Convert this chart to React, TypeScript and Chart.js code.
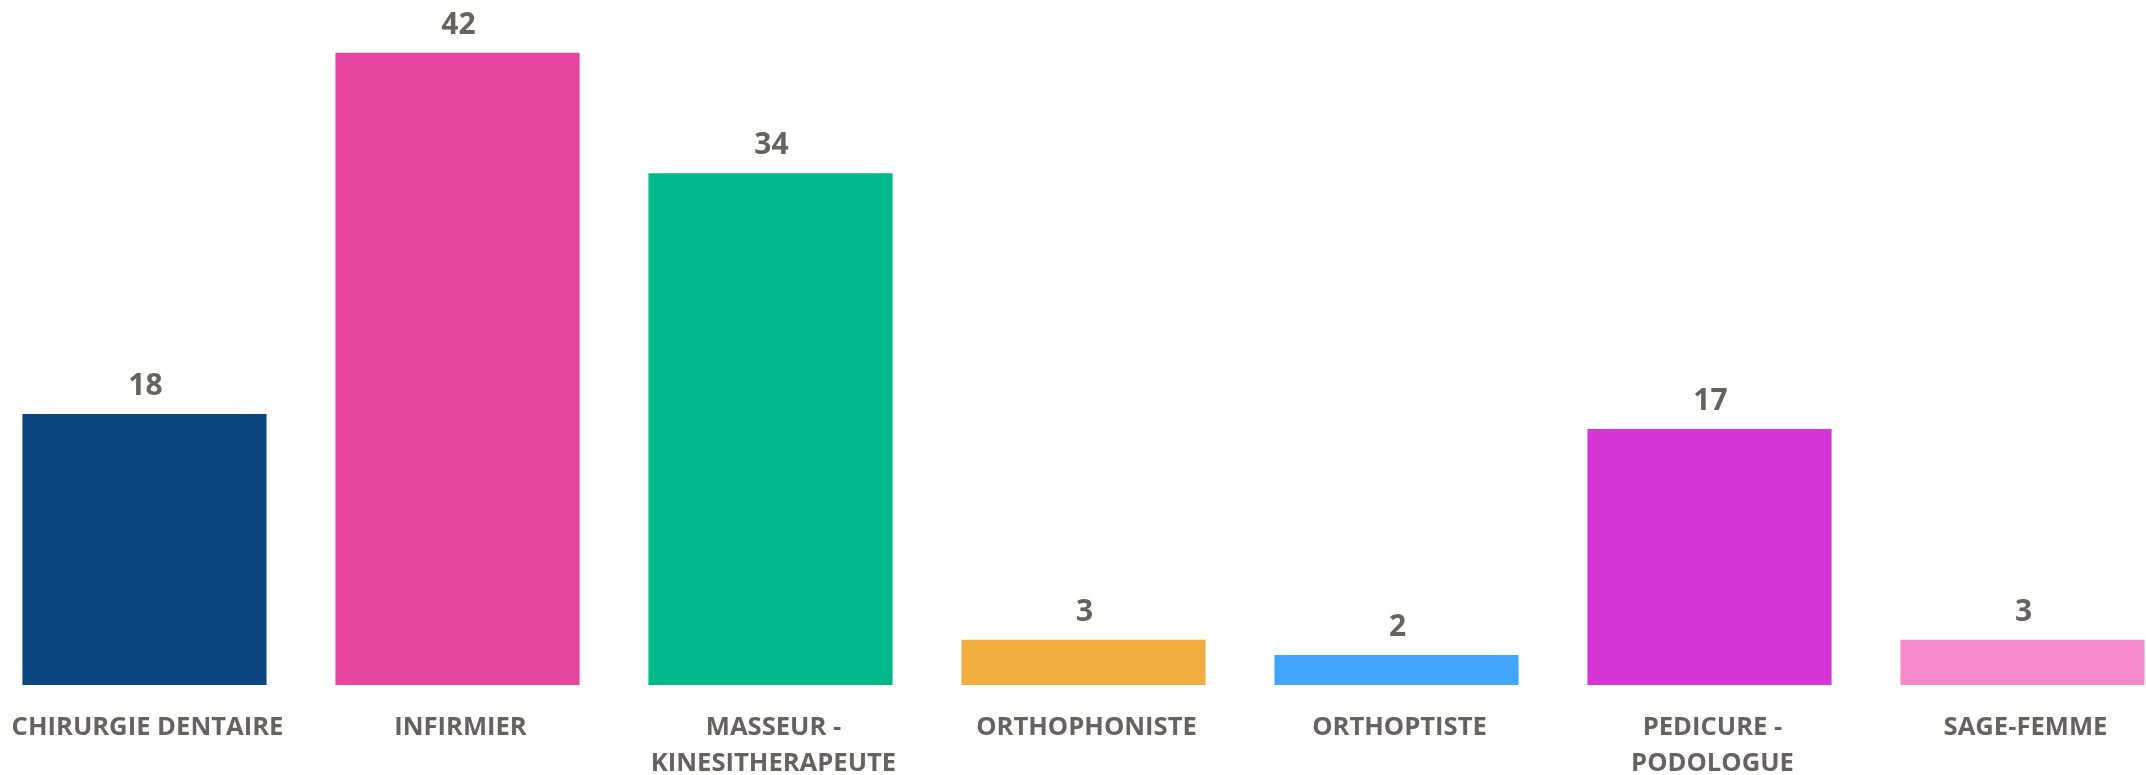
import React, { useEffect, useRef } from "react";
import { Chart, registerables } from "chart.js";

Chart.register(...registerables);

const categories: (string | string[])[] = [
  "CHIRURGIE DENTAIRE",
  "INFIRMIER",
  ["MASSEUR -", "KINESITHERAPEUTE"],
  "ORTHOPHONISTE",
  "ORTHOPTISTE",
  ["PEDICURE -", "PODOLOGUE"],
  "SAGE-FEMME",
];
const values: number[] = [18, 42, 34, 3, 2, 17, 3];
const barColors: string[] = [
  "#0b477e",
  "#e845a1",
  "#00b98b",
  "#f2ad40",
  "#42a6fd",
  "#d734d5",
  "#f48ac9",
];
const textColor = "#67625d";

const valueLabelPlugin = {
  id: "valueLabels",
  afterDatasetsDraw(chart: any) {
    const ctx = chart.ctx;
    const meta = chart.getDatasetMeta(0);
    ctx.save();
    ctx.font = "bold 30px 'Open Sans'";
    ctx.fillStyle = textColor;
    ctx.textAlign = "center";
    ctx.textBaseline = "alphabetic";
    meta.data.forEach((bar: any, i: number) => {
      ctx.fillText(String(values[i]), bar.x + 1, bar.y - 19);
    });
    ctx.restore();
  },
};

export default function App() {
  const ref = useRef<HTMLCanvasElement | null>(null);
  useEffect(() => {
    if (!ref.current) return;
    const chart = new Chart(ref.current, {
      type: "bar",
      data: {
        labels: categories as any,
        datasets: [
          {
            data: values,
            backgroundColor: barColors,
            borderWidth: 0,
            barPercentage: 0.78,
            categoryPercentage: 1,
          },
        ],
      },
      options: {
        animation: false,
        responsive: false,
        devicePixelRatio: 1,
        layout: { padding: 0 },
        plugins: {
          legend: { display: false },
          tooltip: { enabled: false },
        },
        scales: {
          x: {
            grid: { display: false, drawTicks: true, tickLength: 25 },
            border: { display: false },
            ticks: {
              color: textColor,
              font: { family: "'Open Sans'", size: 25.6, weight: "bold", lineHeight: 1.4 },
              padding: 0,
              labelOffset: 3,
              maxRotation: 0,
              autoSkip: false,
            },
            afterFit: (scale: any) => {
              scale.height = 90;
            },
          },
          y: {
            display: false,
            min: 0,
            max: 45.5,
          },
        },
      },
      plugins: [valueLabelPlugin],
    });
    return () => chart.destroy();
  }, []);

  return (
    <div
      style={{
        position: "absolute",
        left: 0,
        top: 0,
        width: 2146,
        height: 775,
        overflow: "hidden",
        background: "#fff",
      }}
    >
      <canvas
        ref={ref}
        width={2191}
        height={775}
        style={{ position: "absolute", left: -12, top: 0, width: 2191, height: 775 }}
      />
    </div>
  );
}
